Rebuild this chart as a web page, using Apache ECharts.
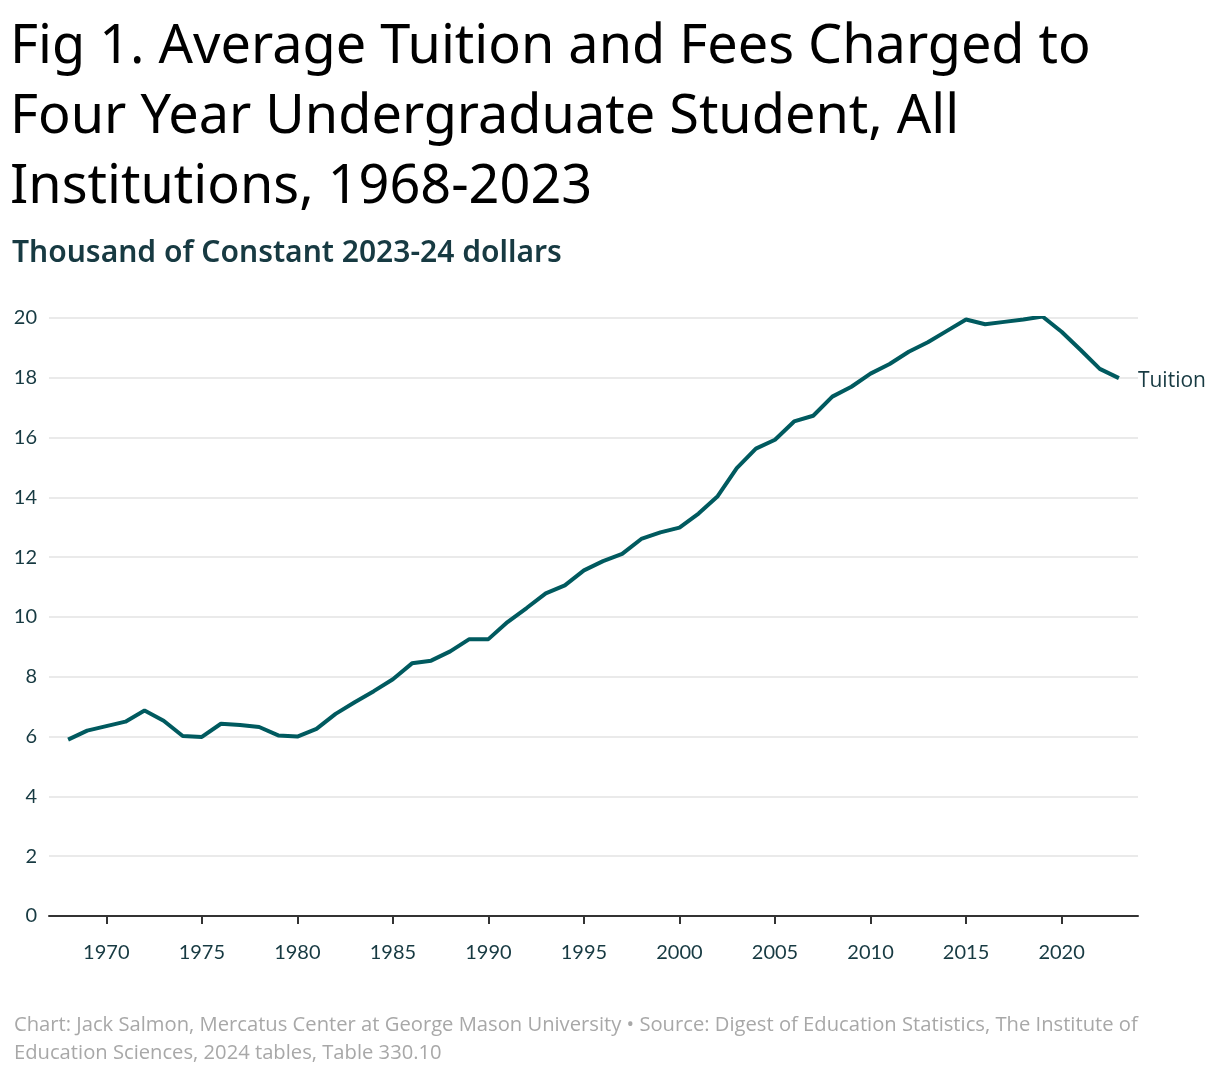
<!DOCTYPE html>
<html>
<head>
<meta charset="utf-8">
<title>Average Tuition and Fees</title>
<script src="https://cdn.jsdelivr.net/npm/echarts@6/dist/echarts.min.js"></script>
<style>
  html, body { margin: 0; padding: 0; background: #fff; }
  #chart { width: 1220px; height: 1076px; }
</style>
</head>
<body>
<div id="chart"></div>
<script>
// 数据：年份 和 学费（千美元，2023-24 不变价）
var years = [1968, 1969, 1970, 1971, 1972, 1973, 1974, 1975, 1976, 1977,
  1978, 1979, 1980, 1981, 1982, 1983, 1984, 1985, 1986, 1987,
  1988, 1989, 1990, 1991, 1992, 1993, 1994, 1995, 1996, 1997,
  1998, 1999, 2000, 2001, 2002, 2003, 2004, 2005, 2006, 2007,
  2008, 2009, 2010, 2011, 2012, 2013, 2014, 2015, 2016, 2017,
  2018, 2019, 2020, 2021, 2022, 2023];
var tuition = [5.90, 6.20, 6.35, 6.50, 6.87, 6.53, 6.02, 5.99, 6.43, 6.39,
  6.32, 6.04, 6.00, 6.26, 6.76, 7.15, 7.52, 7.92, 8.45, 8.54,
  8.85, 9.26, 9.26, 9.83, 10.30, 10.79, 11.06, 11.56, 11.87, 12.11,
  12.61, 12.83, 12.99, 13.46, 14.04, 14.98, 15.63, 15.93, 16.54, 16.73,
  17.37, 17.70, 18.14, 18.46, 18.87, 19.19, 19.57, 19.95, 19.79, 19.87,
  19.95, 20.05, 19.54, 18.93, 18.30, 17.99];
// x 轴范围（比数据两端各多一年）
var axisYears = [];
for (var y = 1967; y <= 2024; y++) axisYears.push(String(y));
var yTicks = [0, 2, 4, 6, 8, 10, 12, 14, 16, 18, 20];

var chart = echarts.init(document.getElementById('chart'));

var pairs = years.map(function (yr, i) { return [String(yr), tuition[i]]; });

var option = {
  backgroundColor: '#fff',
  animation: false,
  title: [{
    // 大标题
    text: 'Fig 1. Average Tuition and Fees Charged to\nFour Year Undergraduate Student, All\nInstitutions, 1968-2023',
    left: 5,
    top: 8,
    textStyle: {
      fontFamily: 'Noto Sans',
      fontSize: 54,
      fontWeight: 'normal',
      color: '#000',
      lineHeight: 70
    }
  }, {
    // 副标题
    text: 'Thousand of Constant 2023-24 dollars',
    left: 7,
    top: 233,
    textStyle: {
      fontFamily: 'Noto Sans',
      fontSize: 30,
      fontWeight: 600,
      color: '#173a42'
    }
  }, {
    // 脚注
    text: 'Chart: Jack Salmon, Mercatus Center at George Mason University \u2022 Source: Digest of Education Statistics, The Institute of\nEducation Sciences, 2024 tables, Table 330.10',
    left: 9,
    top: 1006,
    textStyle: {
      fontFamily: 'Open Sans',
      fontSize: 20.2,
      fontWeight: 'normal',
      color: '#a8a8a8',
      lineHeight: 28
    }
  }],
  grid: {
    left: 49,
    right: 82,
    top: 318,
    bottom: 160
  },
  xAxis: {
    type: 'category',
    data: axisYears,
    boundaryGap: false,
    axisLine: { lineStyle: { color: '#333', width: 2 } },
    axisTick: {
      length: 8,
      lineStyle: { color: '#333', width: 2 },
      interval: function (idx, val) { return Number(val) % 5 === 0; }
    },
    axisLabel: {
      interval: function (idx, val) { return Number(val) % 5 === 0; },
      fontFamily: 'Lato',
      fontSize: 20,
      color: '#173a42',
      margin: 27
    },
    splitLine: { show: false }
  },
  yAxis: {
    type: 'value',
    min: yTicks[0],
    max: yTicks[yTicks.length - 1],
    interval: 2,
    axisLine: { show: false },
    axisTick: { show: false },
    axisLabel: {
      fontFamily: 'Lato',
      fontSize: 20,
      color: '#173a42',
      margin: 12
    },
    splitLine: { lineStyle: { color: '#e3e3e3', width: 1.5 } }
  },
  series: [{
    name: 'Tuition',
    type: 'line',
    data: pairs,
    showSymbol: false,
    lineStyle: { color: '#005a5f', width: 4 },
    itemStyle: { color: '#005a5f' },
    endLabel: {
      show: true,
      formatter: 'Tuition',
      distance: 19,
      offset: [0, 3],
      fontFamily: 'Open Sans',
      fontSize: 21,
      color: '#173a42'
    }
  }]
};
chart.setOption(option);
</script>
</body>
</html>
